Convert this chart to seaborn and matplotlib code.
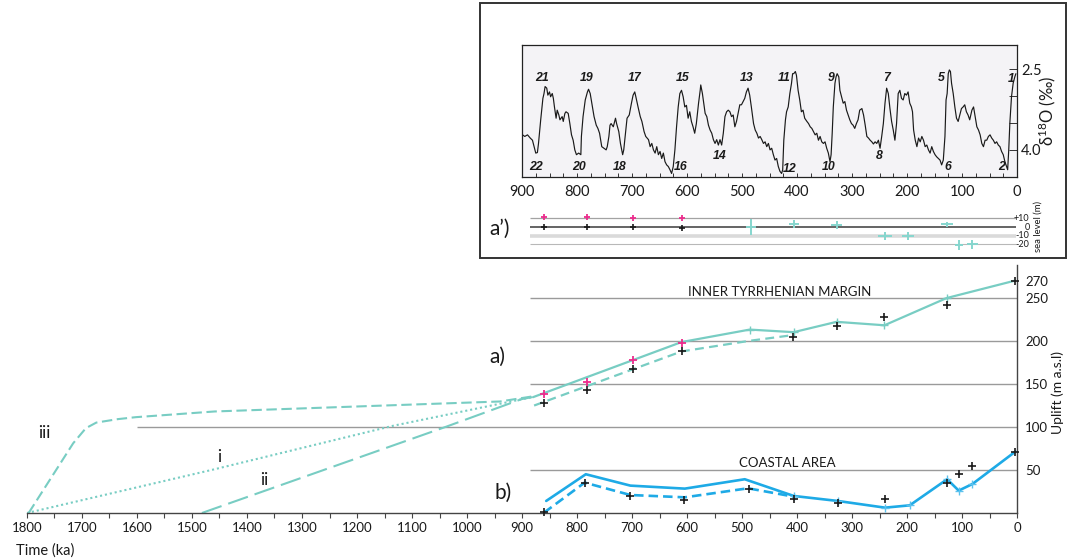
import matplotlib
matplotlib.use("Agg")
import matplotlib.pyplot as plt
from matplotlib.patches import Rectangle
from matplotlib.ticker import MultipleLocator, FixedLocator, NullFormatter
import seaborn as sns

# ---------------------------------------------------------------- data
# Inner Tyrrhenian margin (a): uplift (m a.s.l.) vs time (ka)
a_solid_ka = [880, 610, 486, 406, 328, 241, 128, 4]
a_solid_m = [134.5, 198.5, 213, 210, 222, 218, 249.6, 269.8]
a_dash_ka = [878, 610, 486, 412]
a_dash_m = [124.8, 187.6, 200, 206.2]
a_magenta_ka = [860, 782, 698, 609]
a_magenta_m = [138, 152.7, 177.2, 197.7]
a_black_ka = [860, 782, 698, 609, 407, 328, 241, 128, 4]
a_black_m = [128.3, 142.3, 167.8, 187.6, 203.9, 217.5, 227.1, 241.9, 269.8]

# back-extrapolated scenarios i, ii, iii
i_ka = [1800, 1459, 1135, 882]
i_m = [0, 50.8, 101.2, 134.5]
ii_ka = [1482, 1037, 901, 882]
ii_m = [0, 100.4, 132.2, 134.5]
iii_ka = [1797, 1716, 1693, 1674, 1635, 1602, 1459, 1200, 940, 882]
iii_m = [0, 81, 98.5, 105, 109, 111.3, 117.9, 123.7, 129.5, 135.3]

# Coastal area (b)
b_solid_ka = [856, 784, 703, 604, 495, 406, 326, 240, 195, 127, 106, 81, 3]
b_solid_m = [14, 45, 31.8, 28.3, 39.2, 19.8, 14, 6.2, 8.9, 39.2, 26, 33.7, 71.3]
b_dash_ka = [860, 786, 703, 604, 489, 406]
b_dash_m = [0.4, 35.3, 20.9, 18.2, 28.7, 19]
b_black_ka = [860, 786, 704, 605, 488, 406, 326, 240, 127, 106, 81, 3]
b_black_m = [1.2, 35.3, 20.2, 14.7, 28.3, 15.9, 11.3, 15.9, 35.3, 45.4, 54.7, 71.3]

# benthic oxygen isotope stack (per mil) vs time (ka)
d18o_ka = [
    899, 895, 890, 885, 881, 878, 875, 872, 870, 866, 862, 860, 858, 855, 853, 850,
    848, 845, 843, 841, 838, 836, 833, 831, 827, 825, 822, 820, 816, 813, 810, 807,
    804, 801, 797, 793, 792, 789, 785, 781, 779, 776, 773, 769, 765, 762, 759, 757,
    755, 751, 747, 745, 742, 740, 738, 734, 730, 728, 724, 721, 717, 715, 711, 709,
    705, 701, 698, 695, 693, 689, 685, 682, 678, 675,
    670, 667, 664, 661, 658, 655, 652, 649, 646, 643, 640, 637, 634, 631, 628, 625,
    622, 619, 616, 613, 610, 607, 604, 601, 598, 595, 592, 589, 586, 583, 579, 576,
    575, 572, 570, 567, 564, 561, 558, 555, 552, 549, 546, 543, 540, 537, 534, 531,
    528, 525, 522, 519, 516, 513, 510, 507, 504, 501, 498, 495, 492, 489, 486, 483,
    479, 476, 473, 470, 467, 464, 461, 458, 455, 452, 449, 446, 443, 440,
    437, 434, 431, 428, 426, 424, 421, 419, 416, 413, 410, 408, 406, 403, 401, 398,
    395, 392, 389, 386, 382, 379, 376, 373, 370, 367, 364, 361, 358, 355, 352, 349,
    346, 343, 340, 338, 336, 334, 331, 329, 327, 324, 322, 319, 316, 313, 310, 307,
    304, 301, 298, 295, 292, 289, 286, 282, 279, 276, 273, 270, 267, 264, 261, 258,
    255, 252, 249, 246, 243, 240, 237, 234, 231, 228, 225, 222, 219, 216, 213,
    210, 207, 204, 201, 198, 195, 192, 190, 188, 185, 182, 179, 176, 173, 170, 167,
    164, 161, 158, 155, 152, 149, 146, 143, 140, 137, 134, 131, 129, 127, 125, 123,
    121, 119, 116, 113, 110, 107, 104, 101, 98, 95, 92, 89, 86, 82, 79, 76,
    73, 70, 67, 64, 61, 58, 55, 52, 49, 46, 43, 40, 37, 34, 31, 28,
    25, 22, 19, 17, 15, 13, 10, 7, 4, 2,
]
d18o_val = [
    3.72, 3.75, 3.72, 3.78, 3.82, 3.94, 4.06, 4.05, 3.88, 3.44, 3.04, 2.95, 2.82, 2.85, 2.98, 2.92,
    3.01, 2.95, 3.04, 3.20, 3.41, 3.26, 3.35, 3.44, 3.38, 3.47, 3.32, 3.29, 3.32, 3.51, 3.72, 3.82,
    4.00, 4.09, 4.06, 4.09, 3.75, 3.38, 3.07, 2.92, 2.87, 2.95, 3.13, 3.38, 3.54, 3.60, 3.69, 3.82,
    3.94, 3.97, 4.00, 3.94, 3.75, 3.54, 3.51, 3.57, 3.41, 3.51, 3.66, 3.88, 4.09, 4.00, 3.60, 3.41,
    3.35, 3.13, 2.98, 2.92, 3.01, 3.20, 3.38, 3.47, 3.66, 3.75,
    3.81, 3.94, 3.88, 4.00, 4.06, 3.94, 4.09, 4.03, 4.16, 4.06, 4.22, 4.28, 4.31, 4.37, 4.44, 4.31,
    4.00, 3.57, 3.20, 2.95, 2.89, 3.01, 3.20, 3.17, 3.41, 3.29, 3.47, 3.57, 3.69, 3.51, 3.13, 2.89,
    2.79, 2.95, 3.10, 3.32, 3.38, 3.54, 3.63, 3.69, 3.81, 3.88, 3.81, 3.91, 3.81, 3.91, 3.69, 3.38,
    3.29, 3.26, 3.29, 3.38, 3.35, 3.57, 3.47, 3.32, 3.16, 3.16, 3.10, 3.04, 2.92, 2.85, 2.98, 3.20,
    3.51, 3.63, 3.69, 3.78, 3.75, 3.81, 3.88, 3.85, 3.94, 3.88, 4.00, 3.97, 4.09, 4.19,
    4.16, 4.31, 4.40, 4.44, 4.37, 3.82, 3.44, 3.29, 3.20, 2.95, 2.76, 2.58, 2.58, 2.54, 2.61, 2.89,
    3.07, 3.29, 3.26, 3.41, 3.47, 3.51, 3.57, 3.60, 3.66, 3.72, 3.69, 3.82, 3.75, 3.85, 3.88, 3.85,
    3.97, 4.06, 4.22, 4.09, 3.69, 3.20, 2.76, 2.64, 2.58, 2.64, 2.89, 3.01, 3.13, 3.10, 3.26, 3.35,
    3.44, 3.51, 3.54, 3.60, 3.51, 3.44, 3.26, 3.23, 3.35, 3.54, 3.75, 3.78, 3.82, 3.85, 3.89, 3.85,
    3.88, 3.82, 3.97, 3.75, 3.51, 3.13, 2.85, 2.95, 3.23, 3.47, 3.63, 3.82, 3.51, 2.95, 2.89,
    3.04, 3.07, 2.95, 2.98, 2.92, 3.13, 3.20, 3.29, 3.63, 3.82, 3.94, 3.78, 3.85, 3.75, 3.82, 3.94,
    3.91, 4.00, 4.06, 3.94, 4.03, 4.09, 4.13, 4.16, 4.19, 4.28, 4.19, 3.75, 3.07, 2.95, 2.58, 2.51,
    2.54, 2.76, 2.95, 3.20, 3.41, 3.47, 3.35, 3.23, 3.20, 3.16, 3.29, 3.35, 3.44, 3.26, 3.20, 3.38,
    3.57, 3.63, 3.72, 3.88, 3.94, 3.82, 3.82, 3.75, 3.72, 3.78, 3.82, 3.88, 3.85, 3.91, 3.94, 4.03,
    4.09, 4.22, 4.31, 4.37, 4.00, 3.50, 3.01, 2.76, 2.64, 2.58,
]

# marine isotope stage labels (text, ka, per mil)
mis_text = ["21", "19", "17", "15", "13", "11", "9", "7", "5", "1",
            "22", "20", "18", "16", "14", "12", "10", "8", "6", "2"]
mis_ka = [864, 782, 695, 608, 491, 424, 337, 238, 138, 11,
          874, 796, 722, 611, 540, 414, 343, 250, 126, 28]
mis_val = [2.66, 2.66, 2.66, 2.66, 2.66, 2.66, 2.66, 2.66, 2.66, 2.68,
           4.32, 4.32, 4.32, 4.32, 4.11, 4.36, 4.32, 4.12, 4.32, 4.32]

# palaeo sea level (m) at the highstands
sl_magenta_ka = [860, 782, 699, 610]
sl_magenta_m = [12, 12, 11, 10]
sl_black_ka = [860, 782, 699, 610]
sl_black_m = [0, 0, 0, -1]
sl_cyan_ka = [484, 406, 328, 240, 199, 127, 106, 81]
sl_cyan_m = [0, 3.5, 2, -10.5, -10.5, 3, -21, -20]
sl_cyan_xerr = [9, 9, 10, 13, 11, 11, 7, 9.5]
sl_cyan_yerr = [9, 5, 4.5, 5, 5, 3, 6, 5]
sl_levels = [10, 0, -10, -20]
sl_level_labels = ["+10", "0", "-10", "-20"]

uplift_ticks = [50, 100, 150, 200, 250, 270]

# ---------------------------------------------------------------- style
sns.set_theme(style="white")
plt.rcParams["font.family"] = ["Lato", "DejaVu Sans"]
plt.rcParams["text.color"] = "#1a1a1a"
plt.rcParams["mathtext.fontset"] = "custom"
plt.rcParams["mathtext.rm"] = "Lato"
plt.rcParams["mathtext.it"] = "Lato:italic"

TEAL = "#78cdc3"
BLUE = "#1eaae6"
BLUE_L = "#5cc2ee"
MAGENTA = "#ec2c8c"
GRID = "#9a9a9a"
INK = "#1a1a1a"

W, H = 1070, 560


def fx(px):
    return px / W


def fy(py):
    return 1 - py / H


def line(ax, x, y, color, lw, ls="-"):
    sns.lineplot(x=x, y=y, ax=ax, color=color, linewidth=lw, linestyle=ls,
                 sort=False, estimator=None, legend=False)


def crosses(ax, x, y, color, s=30, lw=1.2):
    sns.scatterplot(x=x, y=y, ax=ax, color=color, marker="+", s=s,
                    linewidth=lw, legend=False, zorder=5, clip_on=False)


fig = plt.figure(figsize=(W / 100, H / 100), dpi=100)

# ---------------------------------------------------------------- uplift panel
ax = fig.add_axes([fx(27), fy(513), (1017 - 27) / W, (513 - 265) / H])
ax.set_facecolor("none")
ax.set_xlim(1800, 0)
ax.set_ylim(0, 288)

ax.hlines([50, 150, 200, 250], 885, 0, color=GRID, lw=1.0, zorder=1)
ax.hlines([100], 1600, 0, color=GRID, lw=1.0, zorder=1)

line(ax, iii_ka, iii_m, TEAL, 1.5, (0, (5.0, 2.2)))
line(ax, i_ka, i_m, TEAL, 1.5, (0, (1.0, 1.4)))
line(ax, ii_ka, ii_m, TEAL, 1.5, (0, (10, 3.4)))
line(ax, a_dash_ka, a_dash_m, TEAL, 1.6, (0, (4.0, 2.4)))
line(ax, a_solid_ka, a_solid_m, TEAL, 1.6)
crosses(ax, a_solid_ka[2:-1], a_solid_m[2:-1], TEAL, s=40, lw=1.0)
crosses(ax, a_magenta_ka, a_magenta_m, MAGENTA, s=30, lw=1.3)
crosses(ax, a_black_ka, a_black_m, INK, s=30, lw=1.2)

line(ax, b_dash_ka, b_dash_m, BLUE, 1.9, (0, (3.6, 1.9)))
line(ax, b_solid_ka, b_solid_m, BLUE, 1.9)
crosses(ax, b_solid_ka[5:-1], b_solid_m[5:-1], BLUE_L, s=40, lw=1.0)
crosses(ax, b_black_ka, b_black_m, INK, s=30, lw=1.2)

for spine in ("top", "left"):
    ax.spines[spine].set_visible(False)
for spine in ("bottom", "right"):
    ax.spines[spine].set_color("#444444")
    ax.spines[spine].set_linewidth(1.0)

ax.set_xticks(range(0, 1801, 100))
ax.xaxis.set_minor_locator(MultipleLocator(50))
ax.tick_params(axis="x", which="both", bottom=True, direction="out",
               length=3.5, width=0.8, color="#444444", labelsize=9.5, pad=3,
               labelcolor=INK)
ax.yaxis.tick_right()
ax.set_yticks(uplift_ticks)
ax.tick_params(axis="y", right=True, length=0, pad=6, labelsize=9.5,
               labelcolor=INK)
ax.set_xlabel("")
ax.set_ylabel("")
ax.grid(False)

ax.text(432, 257, "INNER TYRRHENIAN MARGIN", fontsize=9.5, ha="center",
        va="center")
ax.text(418, 58, "COASTAL AREA", fontsize=9.5, ha="center", va="center")
ax.text(944, 181, "a)", fontsize=15, ha="center", va="center")
ax.text(935, 23.5, "b)", fontsize=15, ha="center", va="center")
ax.text(1768, 93, "iii", fontsize=12.5, ha="center", va="center")
ax.text(1450, 65, "i", fontsize=12.5, ha="center", va="center")
ax.text(1369, 38, "ii", fontsize=12.5, ha="center", va="center")

fig.text(fx(45), fy(551), "Time (ka)", fontsize=10.5, ha="center",
         va="center")
fig.text(fx(1058), fy(392), "Uplift (m a.s.l)", fontsize=10, rotation=90,
         ha="center", va="center")

# ---------------------------------------------------------------- isotope inset
fig.patches.append(Rectangle((fx(480), fy(258)), 586 / W, 255 / H,
                             transform=fig.transFigure, fill=False,
                             ec="#333333", lw=1.4, zorder=0))

axi = fig.add_axes([fx(522), fy(176.7), 495 / W, 132 / H])
axi.set_facecolor("#f4f3f6")
axi.set_xlim(900, 0)
axi.set_ylim(4.5, 2.04)
line(axi, d18o_ka, d18o_val, "#1a1a1a", 0.85)
for spine in axi.spines.values():
    spine.set_color("#222222")
    spine.set_linewidth(0.9)
axi.set_xticks(range(0, 901, 100))
axi.xaxis.set_minor_locator(MultipleLocator(25))
axi.tick_params(axis="x", which="both", bottom=True, direction="in",
                length=3, width=0.7, color="#333333", labelsize=10.5, pad=6,
                labelcolor=INK)
axi.yaxis.tick_right()
axi.yaxis.set_major_locator(FixedLocator([2.5, 4.0]))
axi.yaxis.set_minor_locator(FixedLocator([3.0, 3.5]))
axi.yaxis.set_minor_formatter(NullFormatter())
axi.set_yticklabels(["2.5", "4.0"])
axi.tick_params(axis="y", which="both", right=True, left=False,
                direction="in", length=6, width=0.7, color="#333333",
                labelsize=10.5, pad=3, labelcolor=INK)
axi.set_xlabel("")
axi.set_ylabel("")
axi.grid(False)

for t, k, v in zip(mis_text, mis_ka, mis_val):
    axi.text(k, v, t, fontsize=8.8, fontweight="bold", fontstyle="italic",
             family="Liberation Sans", ha="center", va="center", color=INK)

fig.text(fx(1047), fy(111), r"$\mathregular{\delta^{18}}$O (‰)",
         fontsize=12, rotation=90, ha="center", va="center")

# ---------------------------------------------------------------- sea level strip
axs = fig.add_axes([fx(522), fy(252.8), 495 / W, 47.3 / H])
axs.set_xlim(900, 0)
axs.set_ylim(-30, 25)
axs.axis("off")
level_style = {10: ("#a3a3a3", 0.9), 0: ("#3a3a3a", 1.1),
               -10: ("#dadada", 2.6), -20: ("#b8b8b8", 0.8)}
for lev, lab in zip(sl_levels, sl_level_labels):
    c, w = level_style[lev]
    axs.hlines(lev, 885, 1, color=c, lw=w, zorder=1)
    axs.text(-23, lev, lab, fontsize=6.5, ha="right", va="center",
             clip_on=False)
axs.text(-38, 1, "sea level (m)", fontsize=6.8, rotation=90, ha="center",
         va="center", clip_on=False)

axs.errorbar(sl_cyan_ka, sl_cyan_m, xerr=sl_cyan_xerr, yerr=sl_cyan_yerr,
             fmt="none", ecolor="#86d6ce", elinewidth=1.4, capsize=0,
             zorder=3, clip_on=False)
crosses(axs, sl_magenta_ka, sl_magenta_m, MAGENTA, s=22, lw=1.3)
crosses(axs, sl_black_ka, sl_black_m, INK, s=22, lw=1.2)

fig.text(fx(500), fy(229), "a\u2019)", fontsize=15, ha="center",
         va="center")

fig.savefig("out.png", dpi=100)
